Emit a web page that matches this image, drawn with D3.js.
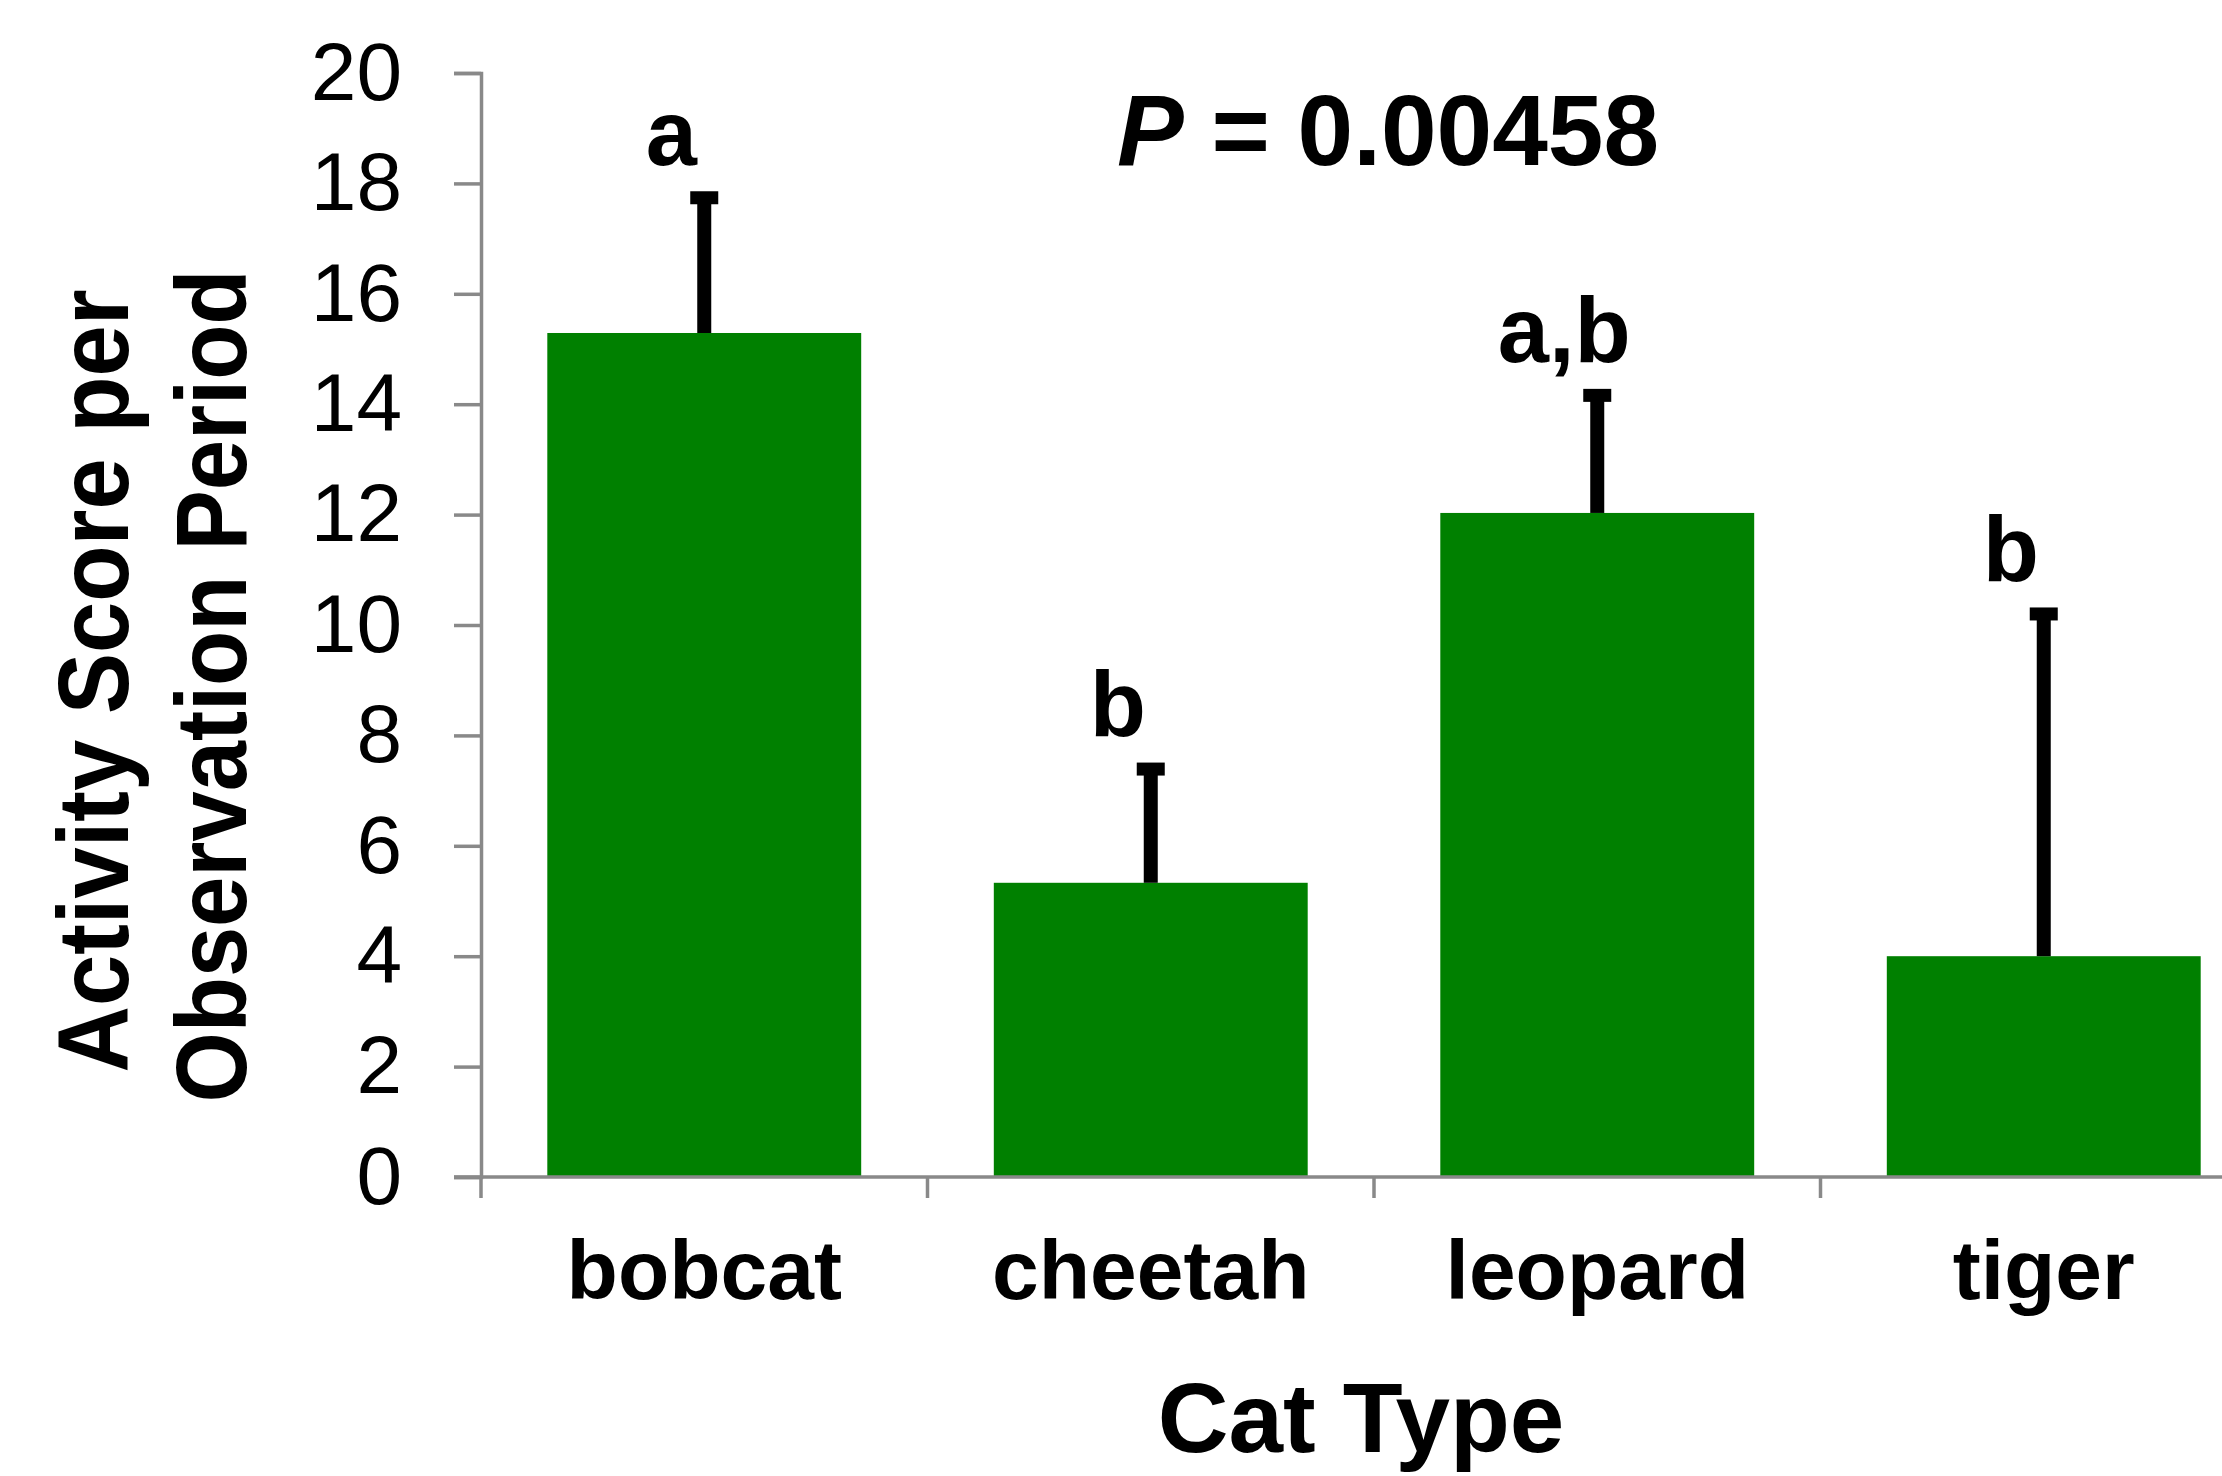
<!DOCTYPE html>
<html>
<head>
<meta charset="utf-8">
<script src="https://cdn.jsdelivr.net/npm/d3@7"></script>
<style>
  body { margin: 0; background: #fff; }
  svg { display: block; font-family: "Liberation Sans", Arial, sans-serif; }
</style>
</head>
<body>
<svg width="2222" height="1476"></svg>
<script>
// data
const cats = ["bobcat", "cheetah", "leopard", "tiger"];
const means = [15.29, 5.33, 12.03, 4.0];
const errors = [2.45, 2.06, 2.13, 6.2];
const letters = ["a", "b", "a,b", "b"];
const yTicks = [0, 2, 4, 6, 8, 10, 12, 14, 16, 18, 20];
const pText = "0.00458";

const svg = d3.select("svg"),
  axisColor = "#898989",
  x0 = 481,
  step = 446.5,
  yTop = 73,
  yBottom = 1177;

const x = d3
  .scaleBand()
  .domain(cats)
  .range([x0, x0 + step * cats.length])
  .padding(0);
const barW = x.bandwidth() * 0.703;

const y = d3.scaleLinear().domain([0, 20]).range([yBottom, yTop]);

const data = cats.map((c, i) => ({ cat: c, mean: means[i], err: errors[i], letter: letters[i] }));

// bars
svg
  .selectAll(".bar")
  .data(data)
  .enter()
  .append("rect")
  .attr("class", "bar")
  .attr("x", (d) => x(d.cat) + (x.bandwidth() - barW) / 2)
  .attr("y", (d) => y(d.mean))
  .attr("width", barW)
  .attr("height", (d) => y(0) - y(d.mean))
  .attr("fill", "#008000");

// y axis
const yAxis = svg
  .append("g")
  .attr("transform", `translate(${x0},0)`)
  .call(d3.axisLeft(y).tickValues(yTicks).tickSize(27).tickSizeOuter(27).tickPadding(52));
yAxis.select(".domain").attr("stroke", axisColor).attr("stroke-width", 3.5);
yAxis.selectAll(".tick line").attr("stroke", axisColor).attr("stroke-width", 3.5);
yAxis
  .selectAll(".tick text")
  .attr("fill", "#000")
  .style("font-size", "82px")
  .style("font-family", "'Liberation Sans', Arial, sans-serif");

// x axis line + boundary ticks
const xAxis = svg.append("g");
xAxis
  .append("line")
  .attr("x1", x0 - 27)
  .attr("x2", x.range()[1])
  .attr("y1", y(0))
  .attr("y2", y(0))
  .attr("stroke", axisColor)
  .attr("stroke-width", 3.5);
xAxis
  .selectAll(".xtick")
  .data(cats.concat(["end"]))
  .enter()
  .append("line")
  .attr("class", "xtick")
  .attr("x1", (d) => (d === "end" ? x.range()[1] : x(d)))
  .attr("x2", (d) => (d === "end" ? x.range()[1] : x(d)))
  .attr("y1", y(0))
  .attr("y2", y(0) + 21)
  .attr("stroke", axisColor)
  .attr("stroke-width", 3.5);

// category labels
svg
  .selectAll(".cat-label")
  .data(cats)
  .enter()
  .append("text")
  .attr("class", "cat-label")
  .attr("x", (d) => x(d) + x.bandwidth() / 2)
  .attr("y", 1299)
  .attr("text-anchor", "middle")
  .style("font-size", "84px")
  .style("font-weight", "bold")
  .text((d) => d);

// error bars (upper only)
const eb = svg.selectAll(".err").data(data).enter().append("g").attr("class", "err");
eb.append("rect")
  .attr("x", (d) => x(d.cat) + x.bandwidth() / 2 - 7)
  .attr("y", (d) => y(d.mean + d.err))
  .attr("width", 14)
  .attr("height", (d) => y(d.mean) - y(d.mean + d.err))
  .attr("fill", "#000");
eb.append("rect")
  .attr("x", (d) => x(d.cat) + x.bandwidth() / 2 - 14)
  .attr("y", (d) => y(d.mean + d.err) - 6.5)
  .attr("width", 28)
  .attr("height", 13)
  .attr("fill", "#000");

// significance letters
svg
  .selectAll(".letter")
  .data(data)
  .enter()
  .append("text")
  .attr("class", "letter")
  .attr("x", (d) => x(d.cat) + x.bandwidth() / 2 - 33)
  .attr("y", (d) => y(d.mean + d.err) - 33)
  .attr("text-anchor", "middle")
  .style("font-size", "92px")
  .style("font-weight", "bold")
  .text((d) => d.letter);

// P value
const p = svg
  .append("text")
  .attr("x", 1388)
  .attr("y", 165)
  .attr("text-anchor", "middle")
  .style("font-size", "100px")
  .style("font-weight", "bold");
p.append("tspan").style("font-style", "italic").text("P");
p.append("tspan").text(" = " + pText);

// axis titles
svg
  .append("text")
  .attr("x", 1361)
  .attr("y", 1452)
  .attr("text-anchor", "middle")
  .style("font-size", "98px")
  .style("font-weight", "bold")
  .text("Cat Type");

const yTitle = [
  { text: "Activity Score per", x: 128, cy: 681, len: 783 },
  { text: "Observation Period", x: 246, cy: 686, len: 833 },
];
svg
  .selectAll(".ytitle")
  .data(yTitle)
  .enter()
  .append("text")
  .attr("class", "ytitle")
  .attr("transform", (d) => `translate(${d.x},${d.cy}) rotate(-90)`)
  .attr("text-anchor", "middle")
  .attr("textLength", (d) => d.len)
  .attr("lengthAdjust", "spacingAndGlyphs")
  .style("font-size", "100px")
  .style("font-weight", "bold")
  .text((d) => d.text);
</script>
</body>
</html>
